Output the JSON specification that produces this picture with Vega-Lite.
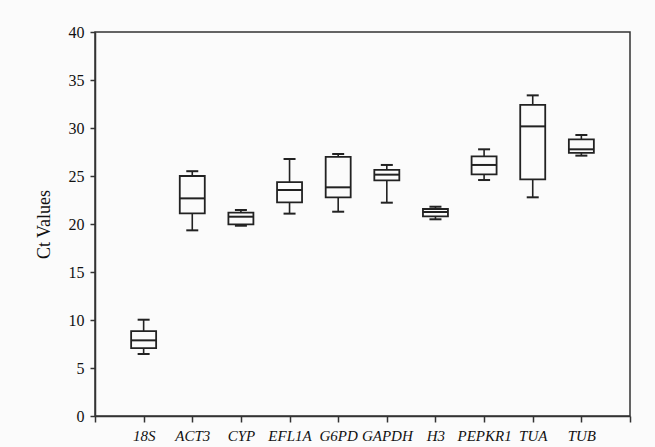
{
  "$schema": "https://vega.github.io/schema/vega-lite/v6.json",
  "width": 535,
  "height": 384,
  "autosize": {"type": "none"},
  "padding": {"left": 95, "top": 32, "right": 25, "bottom": 31},
  "background": "#fbfbfb",
  "config": {
    "view": {"stroke": "#333333", "strokeWidth": 1.5},
    "font": "Liberation Serif"
  },
  "data": {
    "values": [
      {"gene": "18S", "min": 6.46, "q1": 7.08, "median": 7.88, "q3": 8.85, "max": 10.03},
      {"gene": "ACT3", "min": 19.34, "q1": 21.1, "median": 22.67, "q3": 25.0, "max": 25.5},
      {"gene": "CYP", "min": 19.82, "q1": 19.97, "median": 20.76, "q3": 21.18, "max": 21.46},
      {"gene": "EFL1A", "min": 21.08, "q1": 22.26, "median": 23.54, "q3": 24.37, "max": 26.77},
      {"gene": "G6PD", "min": 21.28, "q1": 22.78, "median": 23.82, "q3": 27.0, "max": 27.29},
      {"gene": "GAPDH", "min": 22.22, "q1": 24.55, "median": 25.14, "q3": 25.63, "max": 26.15},
      {"gene": "H3", "min": 20.49, "q1": 20.8, "median": 21.25, "q3": 21.56, "max": 21.8},
      {"gene": "PEPKR1", "min": 24.58, "q1": 25.17, "median": 26.15, "q3": 27.05, "max": 27.78},
      {"gene": "TUA", "min": 22.78, "q1": 24.65, "median": 30.17, "q3": 32.4, "max": 33.4},
      {"gene": "TUB", "min": 27.12, "q1": 27.4, "median": 27.78, "q3": 28.82, "max": 29.27}
    ]
  },
  "encoding": {
    "x": {
      "field": "gene",
      "type": "nominal",
      "scale": {
        "type": "point",
        "padding": 0,
        "domain": ["", "18S", "ACT3", "CYP", "EFL1A", "G6PD", "GAPDH", "H3", "PEPKR1", "TUA", "TUB", " "]
      },
      "axis": {
        "title": null,
        "labelAngle": 0,
        "labelFontSize": 15,
        "labelFontStyle": "italic",
        "labelColor": "#111111",
        "labelPadding": 6,
        "tickSize": 6,
        "tickColor": "#333333",
        "tickWidth": 1.5,
        "domainColor": "#333333",
        "domainWidth": 1.5
      }
    }
  },
  "layer": [
    {
      "mark": {"type": "rule", "color": "#222222", "strokeWidth": 1.6},
      "encoding": {
        "y": {
          "field": "min",
          "type": "quantitative",
          "scale": {"domain": [0, 40], "nice": false},
          "axis": {
            "title": "Ct Values",
            "titleFontSize": 18,
            "titleFontWeight": "normal",
            "titleColor": "#111111",
            "titlePadding": 15,
            "values": [0, 5, 10, 15, 20, 25, 30, 35, 40],
            "labelFontSize": 16,
            "labelColor": "#111111",
            "labelPadding": 6,
            "tickSize": 5,
            "tickColor": "#333333",
            "tickWidth": 1.5,
            "domainColor": "#333333",
            "domainWidth": 1.5,
            "grid": false
          }
        },
        "y2": {"field": "q1"}
      }
    },
    {
      "mark": {"type": "rule", "color": "#222222", "strokeWidth": 1.6},
      "encoding": {"y": {"field": "q3", "type": "quantitative"}, "y2": {"field": "max"}}
    },
    {
      "mark": {"type": "bar", "filled": false, "stroke": "#222222", "strokeWidth": 1.8, "width": 25},
      "encoding": {"y": {"field": "q1", "type": "quantitative"}, "y2": {"field": "q3"}}
    },
    {
      "mark": {"type": "tick", "color": "#222222", "opacity": 1, "size": 25, "thickness": 2},
      "encoding": {"y": {"field": "median", "type": "quantitative"}}
    },
    {
      "mark": {"type": "tick", "color": "#222222", "opacity": 1, "size": 12, "thickness": 2},
      "encoding": {"y": {"field": "min", "type": "quantitative"}}
    },
    {
      "mark": {"type": "tick", "color": "#222222", "opacity": 1, "size": 12, "thickness": 2},
      "encoding": {"y": {"field": "max", "type": "quantitative"}}
    }
  ]
}
